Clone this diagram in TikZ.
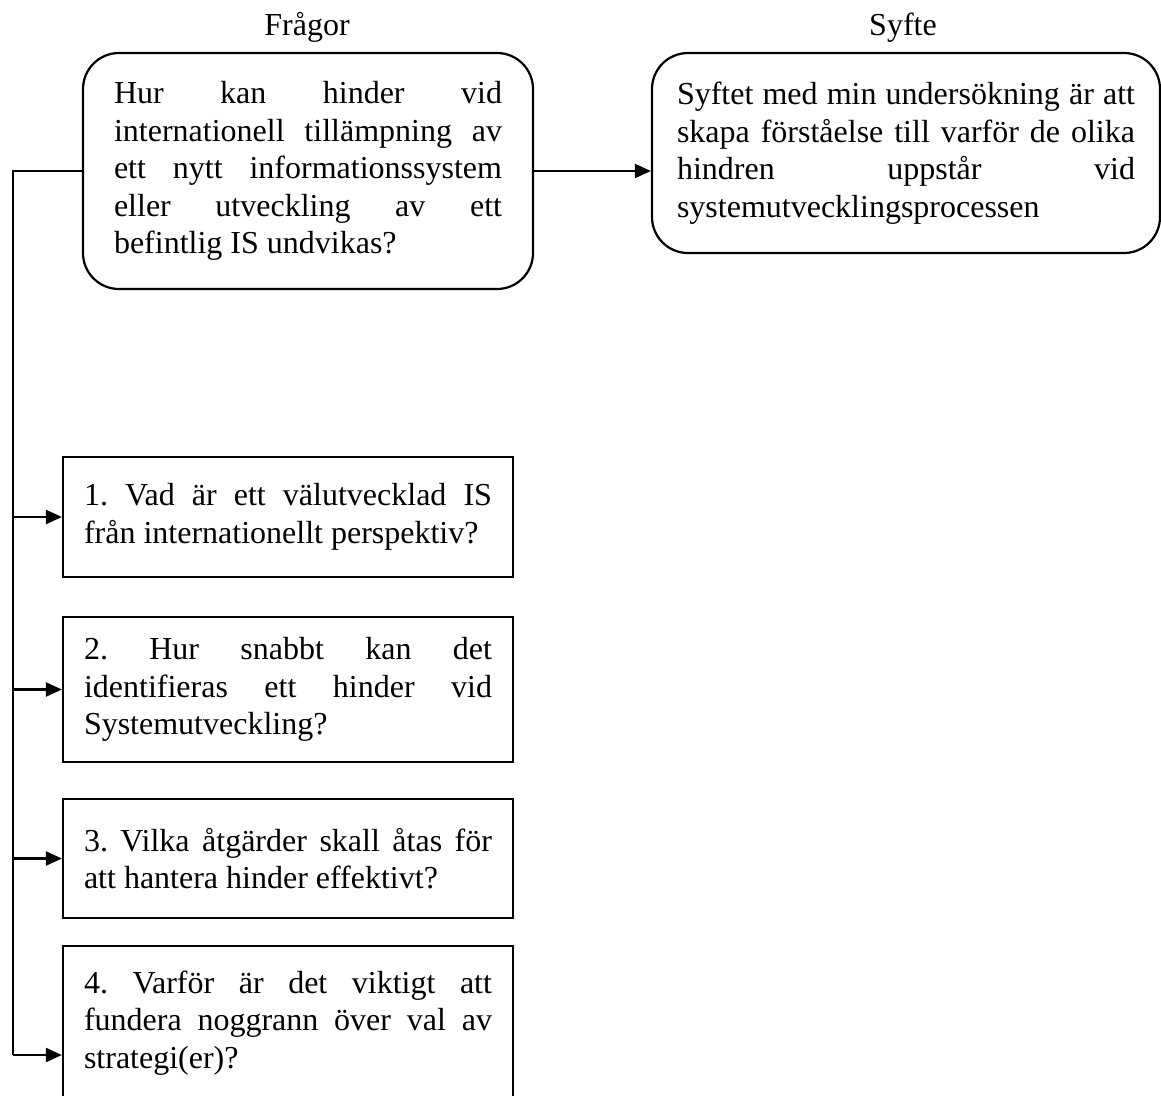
\documentclass[tikz,border=0pt]{standalone}
\usepackage{fontspec}
\setmainfont{Liberation Serif}
\usetikzlibrary{arrows.meta}
% justified lines with evenly stretched spaces; the last line keeps natural spacing
\newcommand{\jfy}{\leftskip=0pt\rightskip=0pt\parindent=0pt\spaceskip=.25em plus 1fil\relax\xspaceskip=\spaceskip\parfillskip=0pt plus 1fill\relax}
\begin{document}
\begin{tikzpicture}[x=1pt,y=-1pt,
  thick line/.style={line width=2.2pt},
  arr/.style={thick line, -{Triangle[length=16pt,width=14pt]}},
  txt/.style={font=\fontsize{32}{37.5}\selectfont},
  rbox/.style={draw, thick line, rounded corners=36pt, txt, inner sep=0pt, align=justify},
  qbox/.style={draw, thick line, txt, inner sep=0pt, minimum width=450pt, text width=408pt, align=justify}]
\useasboundingbox (0,0) rectangle (1161,1095);

% column headings
\node[txt, anchor=base] (hq) at (307,35) {Frågor};
\node[txt, anchor=base] (hs) at (903,35) {Syfte};

% main question and purpose
\node[rbox, minimum width=450pt, minimum height=236pt, text width=388pt] (q0) at (308,171)
  {\jfy Hur kan hinder vid\linebreak internationell tillämpning av\linebreak ett nytt informationssystem\linebreak eller utveckling av ett\linebreak befintlig IS undvikas?\par};
\node[rbox, minimum width=508pt, minimum height=200pt, text width=458pt] (aim) at (906,153)
  {\jfy Syftet med min undersökning är att\linebreak skapa förståelse till varför de olika\linebreak hindren uppstår vid\linebreak systemutvecklingsprocessen\par};

% sub-questions
\node[qbox, minimum height=120pt] (q1) at (288,517)
  {\jfy 1. Vad är ett välutvecklad IS\linebreak från internationellt perspektiv?\par};
\node[qbox, minimum height=145pt] (q2) at (288,689.5)
  {\jfy 2. Hur snabbt kan det\linebreak identifieras ett hinder vid\linebreak Systemutveckling?\par};
\node[qbox, minimum height=119pt] (q3) at (288,858.5)
  {\jfy 3. Vilka åtgärder skall åtas för\linebreak att hantera hinder effektivt?\par};
\node[qbox, minimum height=154pt] (q4) at (288,1023)
  {\jfy 4. Varför är det viktigt att\linebreak fundera noggrann över val av\linebreak strategi(er)?\par};

% connectors
\coordinate (bus) at (13,0);
\coordinate (bus4) at (13,1055);
\draw[arr] (q0.east) -- (q0.east -| aim.west);
\draw[thick line] (q0.west) -- (q0.west -| bus) -- (bus4);
\draw[arr] (q1.west -| bus) -- (q1.west);
\draw[arr] (q2.west -| bus) -- (q2.west);
\draw[arr] (q3.west -| bus) -- (q3.west);
\draw[arr] (bus4) -- (bus4 -| q4.west);
\end{tikzpicture}
\end{document}
